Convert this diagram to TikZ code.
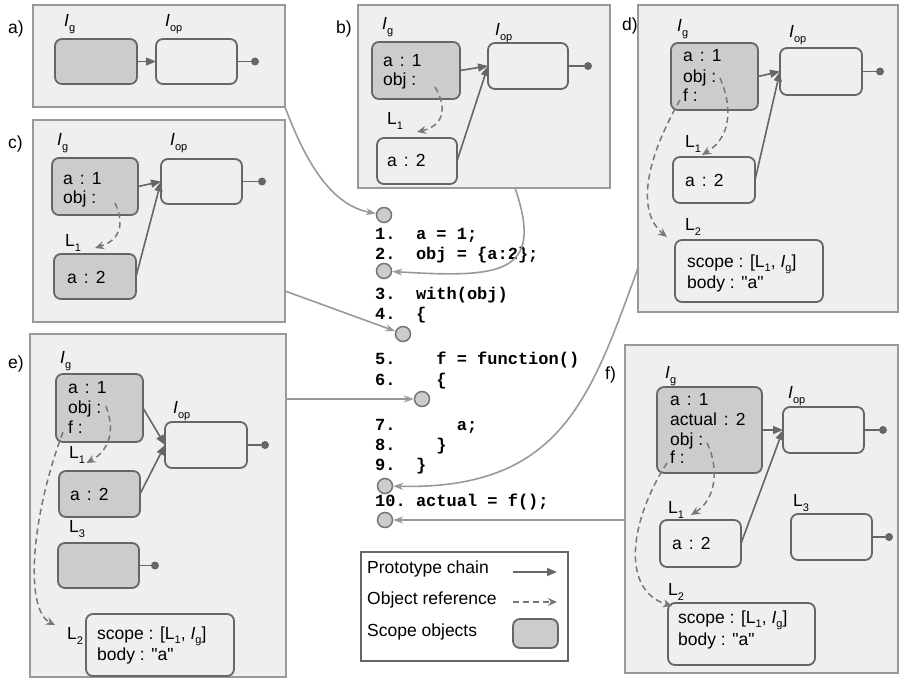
\documentclass[tikz,border=0pt]{standalone}
\usepackage{fontspec}
\setmainfont{Liberation Sans}[Ligatures=TeXOff]
\setmonofont{Liberation Mono}
\usetikzlibrary{arrows.meta,calc,fit}
\definecolor{panelbg}{HTML}{EFEFEF}
\definecolor{panelbd}{HTML}{999999}
\definecolor{boxbd}{HTML}{666666}
\definecolor{scopefill}{HTML}{CCCCCC}
\definecolor{linkc}{HTML}{999999}
\definecolor{orefc}{HTML}{777777}
\newcommand{\Isub}[1]{\textit{I}\raisebox{-5pt}{\fontsize{11}{11}\selectfont #1}}
\newcommand{\Lsub}[1]{L\raisebox{-5pt}{\fontsize{11}{11}\selectfont #1}}
\newcommand{\Isubs}[1]{\textit{I}\raisebox{-4pt}{\fontsize{11}{11}\selectfont #1}}
\newcommand{\Lsubs}[1]{L\raisebox{-4pt}{\fontsize{11}{11}\selectfont #1}}
\newcommand{\cl}{\hspace{7pt}:\hspace{7pt}}
\newcommand{\qa}{"a"}
\tikzset{
  panel/.style={draw=panelbd, fill=panelbg, line width=1.6pt, inner sep=0pt, outer sep=0pt},
  objbox/.style={draw=boxbd, line width=1.8pt, rounded corners=7pt, inner sep=0pt, outer sep=0pt},
  scopebox/.style={objbox, fill=scopefill},
  txt/.style={font=\fontsize{17.5}{20}\selectfont, inner sep=0pt, anchor=base west},
  code/.style={font=\fontsize{17}{20}\selectfont\ttfamily\bfseries, inner sep=0pt, anchor=base west},
  proto/.style={draw=boxbd, line width=1.6pt, -{Triangle[length=10pt,width=8pt]}},
  oref/.style={draw=orefc, dash pattern=on 6pt off 4pt, line width=1.5pt, -{Stealth[length=9pt,width=8pt]}},
  link/.style={draw=linkc, line width=1.6pt, -{Stealth[length=10pt,width=7pt]}},
  tipline/.style={draw=boxbd, line width=1.8pt},
  tipdot/.style={circle, fill=boxbd, inner sep=0pt, minimum size=8pt},
  pcirc/.style={circle, draw=boxbd!90, fill=scopefill, minimum size=15pt, inner sep=0pt, line width=1.5pt},
}
\begin{document}
\begin{tikzpicture}[x=1pt,y=-1pt]
\useasboundingbox (0,0) rectangle (899,679);
% ---------------- panel a
\node[panel, fit={(33,5) (285,107)}] (pa) {};
\node[txt] (la) at (8,34) {a)};
\node[scopebox, fit={(55,39) (137,84)}] (iga) {};
\node[objbox, fit={(156,39) (237,84)}] (iopa) {};
\node[txt] (iga-l) at (64,27) {\Isub{g}};
\node[txt] (iopa-l) at (165,27) {\Isub{op}};
\draw[proto] (iga) -- (iopa);
\node[tipdot] (dota) at ($(iopa.east)+(18,0)$) {};
\draw[tipline] (iopa.east) -- (dota);
% ---------------- panel b
\node[panel, fit={(358,5) (610,188)}] (pb) {};
\node[txt] (lb) at (336,34) {b)};
\node[scopebox, fit={(372,42) (460,99)}] (igb) {};
\node[objbox, fit={(488,43) (568,89)}] (iopb) {};
\node[objbox, fit={(377,138) (457,184)}] (l1b) {};
\node[txt] (igb-l) at (382,30) {\Isub{g}};
\node[txt] (iopb-l) at (495,36) {\Isub{op}};
\node[txt] (l1b-l) at (387,125) {\Lsub{1}};
\node[txt] (tb1) at (383,67) {a\cl1};
\node[txt] (tb2) at (383,86) {obj :};
\node[txt] (tb3) at (387,167) {a\cl2};
\draw[proto] (igb.east) -- (iopb.west);
\draw[proto] (l1b.east) -- (iopb.west);
\node[tipdot] (dotb) at ($(iopb.east)+(20,0)$) {};
\draw[tipline] (iopb.east) -- (dotb);
\coordinate (obs) at (435,87);
\draw[oref] (obs) .. controls (446,105) and (446,125) .. ($(l1b.north)+(0,-6)$);
% ---------------- panel c
\node[panel, fit={(33,120) (285,322)}] (pc) {};
\node[txt] (lc) at (8,149) {c)};
\node[scopebox, fit={(52,158) (138,215)}] (igc) {};
\node[objbox, fit={(161,159) (242,204)}] (iopc) {};
\node[scopebox, fit={(54,254) (136,299)}] (l1c) {};
\node[txt] (igc-l) at (57,146) {\Isub{g}};
\node[txt] (iopc-l) at (170,146) {\Isub{op}};
\node[txt] (l1c-l) at (65,246) {\Lsub{1}};
\node[txt] (tc1) at (63,185) {a\cl1};
\node[txt] (tc2) at (63,204) {obj :};
\node[txt] (tc3) at (67,283) {a\cl2};
\draw[proto] (igc.east) -- (iopc.west);
\draw[proto] (l1c.east) -- (iopc.west);
\node[tipdot] (dotc) at ($(iopc.east)+(20,0)$) {};
\draw[tipline] (iopc.east) -- (dotc);
\coordinate (ocs) at (115,203);
\draw[oref] (ocs) .. controls (125,225) and (120,240) .. ($(l1c.north)+(0,-6)$);
% ---------------- panel d
\node[panel, fit={(638,5) (898,312)}] (pd) {};
\node[txt] (ld) at (622,31) {d)};
\node[scopebox, fit={(671,43) (758,110)}] (igd) {};
\node[objbox, fit={(780,48) (862,95)}] (iopd) {};
\node[objbox, fit={(673,157) (755,203)}] (l1d) {};
\node[objbox, fit={(675,240) (823,302)}] (l2d) {};
\node[txt] (igd-l) at (677,32) {\Isub{g}};
\node[txt] (iopd-l) at (789,38) {\Isub{op}};
\node[txt] (l1d-l) at (685,148) {\Lsub{1}};
\node[txt] (l2d-l) at (685,230) {\Lsub{2}};
\node[txt] (td1) at (683,62) {a\cl1};
\node[txt] (td2) at (683,83) {obj :};
\node[txt] (td3) at (683,102) {f :};
\node[txt] (td4) at (685,187) {a\cl2};
\node[txt] (td5) at (687,267) {scope : [\Lsubs{1}, \Isubs{g}]};
\node[txt] (td6) at (687,288) {body : \qa};
\draw[proto] (igd.east) -- (iopd.west);
\draw[proto] (l1d.east) -- (iopd.west);
\node[tipdot] (dotd) at ($(iopd.east)+(18,0)$) {};
\draw[tipline] (iopd.east) -- (dotd);
\coordinate (ods) at (720,78);
\draw[oref] (ods) .. controls (730,100) and (735,135) .. ($(l1d.north west)+(29,-2)$);
\coordinate (fds) at (680,100);
\draw[oref] (fds) .. controls (640,170) and (640,215) .. ($(l2d.north west)+(-8,-3)$);
% ---------------- panel e
\node[panel, fit={(30,334) (286,677)}] (pe) {};
\node[txt] (le) at (8,368) {e)};
\node[scopebox, fit={(56,374) (143,442)}] (ige) {};
\node[objbox, fit={(165,422) (247,468)}] (iope) {};
\node[scopebox, fit={(59,471) (140,517)}] (l1e) {};
\node[scopebox, fit={(58,543) (139,588)}] (l3e) {};
\node[objbox, fit={(86,614) (234,676)}] (l2e) {};
\node[txt] (ige-l) at (60,363) {\Isub{g}};
\node[txt] (iope-l) at (173,413) {\Isub{op}};
\node[txt] (l1e-l) at (69,458) {\Lsub{1}};
\node[txt] (l3e-l) at (69,532) {\Lsub{3}};
\node[txt] (l2e-l) at (67,639) {\Lsub{2}};
\node[txt] (te1) at (68,393) {a\cl1};
\node[txt] (te2) at (68,413) {obj :};
\node[txt] (te3) at (68,433) {f :};
\node[txt] (te4) at (70,500) {a\cl2};
\node[txt] (te5) at (97,639) {scope : [\Lsubs{1}, \Isubs{g}]};
\node[txt] (te6) at (97,660) {body : \qa};
\draw[proto] (ige.east) -- (iope.west);
\draw[proto] (l1e.east) -- (iope.west);
\node[tipdot] (dote) at ($(iope.east)+(18,0)$) {};
\draw[tipline] (iope.east) -- (dote);
\node[tipdot] (dote3) at ($(l3e.east)+(16,0)$) {};
\draw[tipline] (l3e.east) -- (dote3);
\coordinate (oes) at (106,406);
\draw[oref] (oes) .. controls (115,430) and (110,450) .. ($(l1e.north)+(-13,-8)$);
\coordinate (fes) at (63,432);
\draw[oref] (fes) .. controls (30,520) and (25,610) .. ($(l2e.north west)+(-31,11)$);
% ---------------- panel f
\node[panel, fit={(625,345) (898,673)}] (pf) {};
\node[txt] (lf) at (605,379) {f)};
\node[scopebox, fit={(657,387) (762,473)}] (igf) {};
\node[objbox, fit={(783,407) (864,453)}] (iopf) {};
\node[objbox, fit={(660,520) (741,567)}] (l1f) {};
\node[objbox, fit={(791,514) (872,560)}] (l3f) {};
\node[objbox, fit={(668,603) (815,665)}] (l2f) {};
\node[txt] (igf-l) at (665,378) {\Isub{g}};
\node[txt] (iopf-l) at (788,398) {\Isub{op}};
\node[txt] (l1f-l) at (668,513) {\Lsub{1}};
\node[txt] (l3f-l) at (793,506) {\Lsub{3}};
\node[txt] (l2f-l) at (668,595) {\Lsub{2}};
\node[txt] (tf1) at (670,405) {a\cl1};
\node[txt] (tf2) at (670,425) {actual\cl2};
\node[txt] (tf3) at (670,445) {obj :};
\node[txt] (tf4) at (670,463) {f :};
\node[txt] (tf5) at (672,549) {a\cl2};
\node[txt] (tf6) at (678,623) {scope : [\Lsubs{1}, \Isubs{g}]};
\node[txt] (tf7) at (678,645) {body : \qa};
\draw[proto] (igf.east) -- (iopf.west);
\draw[proto] (l1f.east) -- (iopf.west);
\node[tipdot] (dotf) at ($(iopf.east)+(19,0)$) {};
\draw[tipline] (iopf.east) -- (dotf);
\node[tipdot] (dotf3) at ($(l3f.east)+(17,0)$) {};
\draw[tipline] (l3f.east) -- (dotf3);
\coordinate (ofs) at (707,443);
\draw[oref] (ofs) .. controls (720,470) and (715,500) .. ($(l1f.north west)+(31,-5)$);
\coordinate (ffs) at (667,463);
\draw[oref] (ffs) .. controls (630,520) and (620,590) .. ($(l2f.north west)+(4,3)$);
% ---------------- code
\node[code] (k1) at (375,239) {1.\ \ a = 1;};
\node[code] (k2) at (375,259) {2.\ \ obj = \{a:2\};};
\node[code] (k3) at (375,299) {3.\ \ with(obj)};
\node[code] (k4) at (375,319) {4.\ \ \{};
\node[code] (k5) at (375,364) {5.\ \ \ \ f = function()};
\node[code] (k6) at (375,385) {6.\ \ \ \ \{};
\node[code] (k7) at (375,430) {7.\ \ \ \ \ \ a;};
\node[code] (k8) at (375,450) {8.\ \ \ \ \}};
\node[code] (k9) at (375,470) {9.\ \ \}};
\node[code] (k10) at (375,506) {10.\ actual = f();};
\node[pcirc] (c1) at (384,215) {};
\node[pcirc] (c2) at (384,271) {};
\node[pcirc] (c3) at (403,334) {};
\node[pcirc] (c4) at (422,399) {};
\node[pcirc] (c5) at (385,486) {};
\node[pcirc] (c6) at (385,520) {};
% ---------------- links
\draw[link] (pa.south east) .. controls (305,160) and (330,205) .. (c1);
\draw[link] ($(pb.south)+(31,0)$) .. controls (545,275) and (500,278) .. (c2);
\draw[link] (pc.east |- 0,291) -- (c3);
\draw[link] (pe.east |- c4) -- (c4);
\draw[link] (pd.west |- 0,268) .. controls (590,400) and (560,490) .. (c5);
\draw[link] (pf.west |- c6) -- (c6);
% ---------------- legend
\node[draw=boxbd, line width=1.6pt, fill=white, fit={(361,552) (568,661)}, inner sep=0pt] (leg) {};
\node[txt] (lg1) at (367,573) {Prototype chain};
\node[txt] (lg2) at (367,604) {Object reference};
\node[txt] (lg3) at (367,636) {Scope objects};
\coordinate (lpa) at (513,572);
\coordinate (lpb) at (557,572);
\draw[proto] (lpa) -- (lpb);
\coordinate (loa) at (513,602);
\coordinate (lob) at (557,602);
\draw[oref] (loa) -- (lob);
\node[scopebox, fit={(513,619) (558,648)}] (lgs) {};
\end{tikzpicture}
\end{document}
